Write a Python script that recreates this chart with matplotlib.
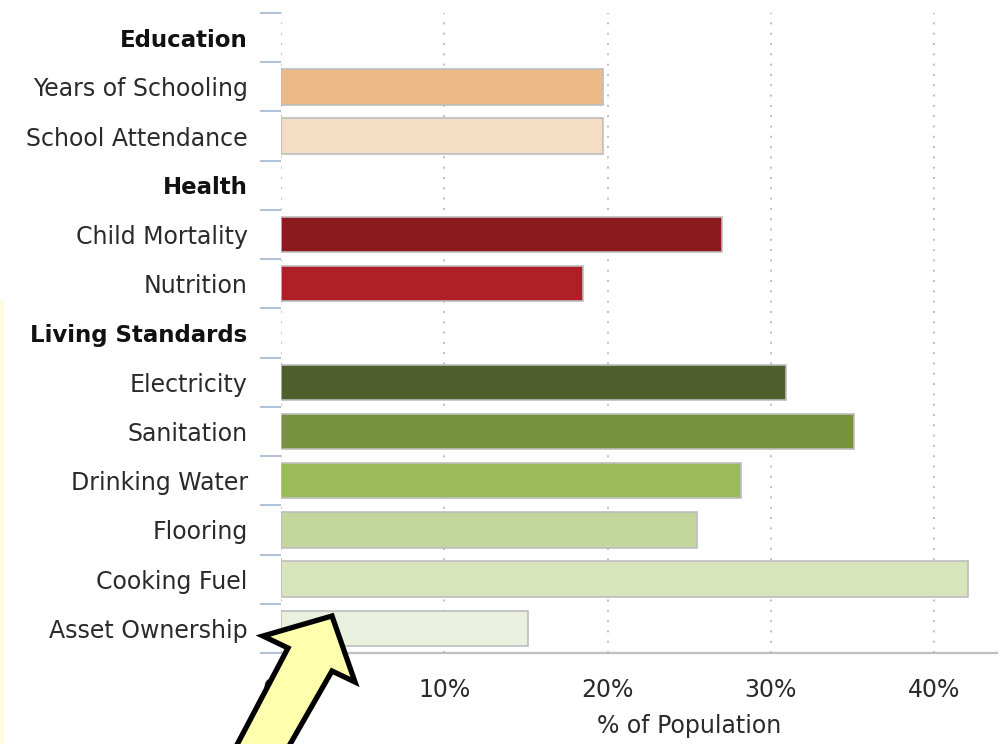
import numpy as np
import matplotlib
matplotlib.use("Agg")
import matplotlib.pyplot as plt
import matplotlib.transforms as mtransforms
from matplotlib.patches import Polygon, Rectangle
from matplotlib.ticker import FixedLocator

# Deprivation indicators, % of population
education_labels = ["Years of Schooling", "School Attendance"]
education_values = [19.7, 19.7]
education_colors = ["#EDBA87", "#F5DDC5"]

health_labels = ["Child Mortality", "Nutrition"]
health_values = [27.0, 18.5]
health_colors = ["#8C191D", "#B01F27"]

living_labels = ["Electricity", "Sanitation", "Drinking Water", "Flooring",
                 "Cooking Fuel", "Asset Ownership"]
living_values = [30.9, 35.1, 28.2, 25.5, 42.1, 15.1]
living_colors = ["#4F602C", "#76923C", "#9BBB59", "#C3D69B", "#D8E4BC", "#EAF0DE"]

groups = ["Education", "Health", "Living Standards"]
x_ticks = [0, 10, 20, 30, 40]

# build the row list: a bold header row followed by its indicators
row_labels, row_values, row_colors, row_bold = [], [], [], []
for name, labs, vals, cols in zip(
        groups,
        [education_labels, health_labels, living_labels],
        [education_values, health_values, living_values],
        [education_colors, health_colors, living_colors]):
    row_labels.append(name)
    row_values.append(np.nan)
    row_colors.append("none")
    row_bold.append(True)
    row_labels += labs
    row_values += vals
    row_colors += cols
    row_bold += [False] * len(labs)

y = np.arange(len(row_labels))

fig = plt.figure(figsize=(10.05, 7.44), dpi=100)
ax = fig.add_axes([281 / 1005, 1 - 653 / 744, 716 / 1005, 640 / 744])

ax.barh(y, row_values, height=0.72, color=row_colors,
        edgecolor="#BDBDBD", linewidth=1.2, zorder=3)

ax.set_xlim(0, 43.85)
ax.set_ylim(len(row_labels) - 0.5, -0.5)

# dotted vertical grid
ax.set_xticks(x_ticks)
ax.set_xticklabels([f"{t}%" for t in x_ticks])
for t in x_ticks:
    ax.axvline(t, color="#BDBDBD", linewidth=1.4, linestyle=(0, (1, 4.3)), zorder=1)

ax.tick_params(axis="x", length=0, pad=18, labelsize=17, labelcolor="#2a2a2a")

# category labels, headers in bold
ax.set_yticks(y)
ax.set_yticklabels(row_labels)
shift = mtransforms.ScaledTranslation(0, -0.03, fig.dpi_scale_trans)
for lbl, bold in zip(ax.get_yticklabels(), row_bold):
    lbl.set_fontweight("bold" if bold else "normal")
    lbl.set_color("#111111" if bold else "#2a2a2a")
    lbl.set_fontsize(16.5 if bold else 17)
    lbl.set_transform(lbl.get_transform() + shift)
ax.tick_params(axis="y", which="major", length=0, pad=24)

# short separator ticks between rows
ax.yaxis.set_minor_locator(FixedLocator(np.arange(-0.5, len(row_labels), 1.0)))
ax.tick_params(axis="y", which="minor", length=15, width=1.4, color="#AEC2D8")

for side in ["top", "right", "left"]:
    ax.spines[side].set_visible(False)
ax.spines["bottom"].set_color("#BFBFBF")
ax.spines["bottom"].set_linewidth(1.6)

fig.text(689 / 1005, 1 - 726 / 744, "% of Population", ha="center", va="center",
         fontsize=17, color="#2a2a2a")

# pale strip along the left edge
fig.patches.append(Rectangle((0, 0), 4 / 1005, 1 - 300 / 744, transform=fig.transFigure,
                             facecolor="#FDFBDC", edgecolor="none", zorder=0))

# call-out arrow pointing at the last bar
arrow_px = [(332, 616), (355, 682), (332, 671), (281, 760),
            (229, 760), (288, 648), (263, 636)]
arrow_pts = [(px / 1005, 1 - py / 744) for px, py in arrow_px]
fig.patches.append(Polygon(arrow_pts, closed=True, transform=fig.transFigure,
                           facecolor="#FFFFAE", edgecolor="black", linewidth=3.8,
                           joinstyle="miter", zorder=10))

fig.savefig("out.png", dpi=100)
